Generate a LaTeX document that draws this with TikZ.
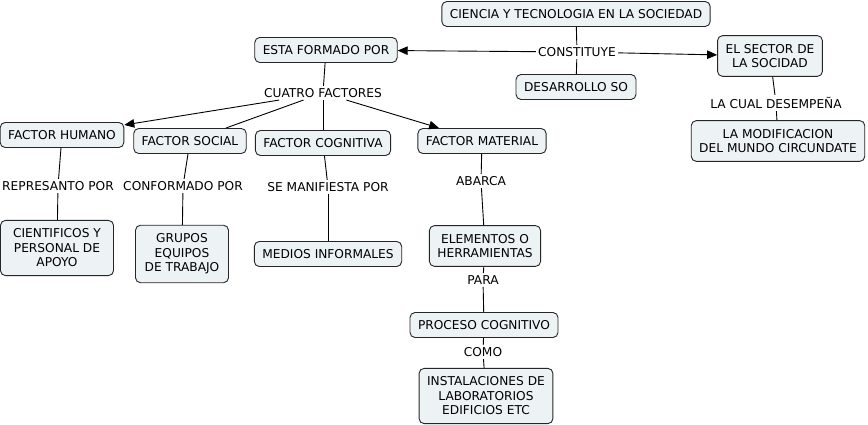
\documentclass[tikz,border=0pt]{standalone}
\usepackage{fontspec}
\setmainfont{DejaVu Sans}
\usetikzlibrary{arrows.meta}
\definecolor{boxfill}{HTML}{EDF2F5}

\begin{document}
\begin{tikzpicture}[x=1pt,y=-1pt,line width=0.9pt,
	concept/.style={draw=black!85,fill=boxfill,rounded corners=5pt,align=center,
		inner xsep=8pt,inner ysep=5pt,minimum height=25pt},
	tall/.style={inner ysep=8.5pt},
	linkword/.style={fill=white,inner sep=2pt,align=center},
	every node/.style={font=\fontsize{12.2}{14.5}\selectfont},
	tip/.style={-{Triangle[length=10pt,width=8.5pt]}}]
	\useasboundingbox[fill=white] (0,0) rectangle (868,425);
	\node[concept] (ciencia) at (576,14) {CIENCIA Y TECNOLOGIA EN LA SOCIEDAD};
	\node[concept] (esta) at (326,50) {ESTA FORMADO POR};
	\node[linkword] (constituye) at (577,52) {CONSTITUYE};
	\node[concept] (desarrollo) at (576,87) {DESARROLLO SO};
	\node[concept,tall] (sector) at (770,56) {EL SECTOR DE\\LA SOCIDAD};
	\node[linkword] (cual) at (776,103) {LA CUAL DESEMPEÑA};
	\node[concept,tall] (modif) at (778,141) {LA MODIFICACION\\DEL MUNDO CIRCUNDATE};
	\node[linkword] (cuatro) at (323,93) {CUATRO FACTORES};
	\node[concept] (humano) at (62,135) {FACTOR HUMANO};
	\node[concept] (social) at (190,141) {FACTOR SOCIAL};
	\node[concept] (cognitiva) at (323,143) {FACTOR COGNITIVA};
	\node[concept] (material) at (482,141) {FACTOR MATERIAL};
	\node[linkword] (represanto) at (58,186) {REPRESANTO POR};
	\node[linkword] (conformado) at (183,186) {CONFORMADO POR};
	\node[linkword] (manifiesta) at (328,187) {SE MANIFIESTA POR};
	\node[linkword] (abarca) at (481,181) {ABARCA};
	\node[concept,tall,minimum width=113pt] (cientificos) at (57,248) {CIENTIFICOS Y\\PERSONAL DE\\APOYO};
	\node[concept,tall,minimum width=93pt] (grupos) at (182,254) {GRUPOS\\EQUIPOS\\DE TRABAJO};
	\node[concept] (medios) at (328,254) {MEDIOS INFORMALES};
	\node[concept,tall] (elementos) at (485,246) {ELEMENTOS O\\HERRAMIENTAS};
	\node[linkword] (para) at (483,280) {PARA};
	\node[concept] (proceso) at (484,325) {PROCESO COGNITIVO};
	\node[linkword] (como) at (483,352) {COMO};
	\node[concept,tall] (instalaciones) at (486,396) {INSTALACIONES DE\\LABORATORIOS\\EDIFICIOS ETC};
	\draw (ciencia)--(constituye);
	\draw[tip] (constituye)--(esta);
	\draw[tip] (constituye)--(sector);
	\draw (constituye)--(desarrollo);
	\draw (sector)--(cual);
	\draw (cual)--(modif);
	\draw (esta)--(cuatro);
	\draw[tip] (cuatro)--(humano);
	\draw (cuatro)--(social);
	\draw (cuatro)--(cognitiva);
	\draw[tip] (cuatro)--(material);
	\draw (humano)--(represanto);
	\draw (represanto)--(cientificos);
	\draw (social)--(conformado);
	\draw (conformado)--(grupos);
	\draw (cognitiva)--(manifiesta);
	\draw (manifiesta)--(medios);
	\draw (material)--(abarca);
	\draw (abarca)--(elementos);
	\draw (elementos)--(para);
	\draw (para)--(proceso);
	\draw (proceso)--(como);
	\draw (como)--(instalaciones);
\end{tikzpicture}
\end{document}
